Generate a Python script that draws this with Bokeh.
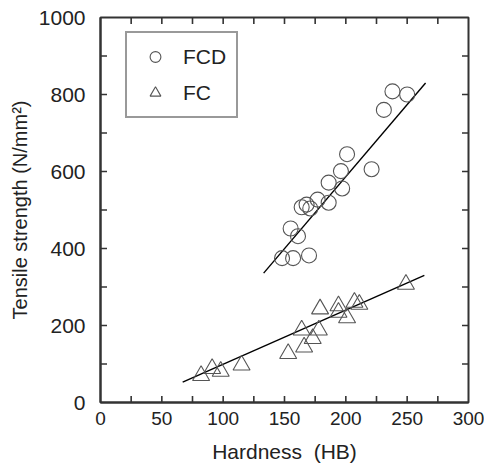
import math
from bokeh.plotting import figure
from bokeh.models import FixedTicker, Legend, LegendItem, Range1d
from bokeh.embed import file_html
from bokeh.resources import INLINE

# Data
fcd_hb = [238, 250, 231, 201, 221, 196, 186, 197, 186, 177, 168, 164, 171, 155, 161, 148, 157, 170]
fcd_ts = [808, 800, 760, 645, 606, 601, 571, 556, 519, 527, 514, 507, 504, 452, 432, 375, 375, 382]
fc_hb = [249, 179, 194, 207, 211, 194, 201, 164, 178, 173, 166, 153, 115, 98, 91, 82]
fc_ts = [307, 243, 251, 260, 255, 234, 220, 188, 188, 166, 144, 127, 97, 81, 88, 70]
fcd_fit_hb = [133, 265]
fcd_fit_ts = [336, 830]
fc_fit_hb = [67, 264]
fc_fit_ts = [53, 330]
x_ticks = [0, 50, 100, 150, 200, 250, 300]
x_minor = [25, 75, 125, 175, 225, 275]
y_ticks = [0, 200, 400, 600, 800, 1000]
y_minor = [100, 300, 500, 700, 900]

FONT = "Liberation Sans"
INK = "#222222"
FRAME = "#333333"

X0, X1, Y0, Y1 = 0, 300, 0, 1000

p = figure(width=484, height=465, output_backend="svg", toolbar_location=None,
           x_range=Range1d(X0, X1), y_range=Range1d(Y0, Y1),
           min_border_left=100, min_border_right=16, min_border_top=17, min_border_bottom=62,
           x_axis_label="Hardness\u00a0\u00a0(HB)", y_axis_label="Tensile strength (N/mm²)")
p.grid.visible = False
p.outline_line_color = FRAME
p.outline_line_width = 2

for ax, ticks, fs in ((p.xaxis[0], x_ticks, "19px"), (p.yaxis[0], y_ticks, "21px")):
    ax.ticker = FixedTicker(ticks=ticks, minor_ticks=[])
    ax.axis_line_color = FRAME
    ax.axis_line_width = 2
    ax.major_tick_in = 0
    ax.major_tick_out = 0
    ax.minor_tick_in = 0
    ax.minor_tick_out = 0
    ax.major_tick_line_color = None
    ax.minor_tick_line_color = None
    ax.major_label_text_font = FONT
    ax.major_label_text_font_size = fs
    ax.major_label_text_color = INK
    ax.axis_label_text_font = FONT
    ax.axis_label_text_font_size = "20px"
    ax.axis_label_text_font_style = "normal"
    ax.axis_label_text_color = INK

p.xaxis[0].axis_label_text_font_size = "21px"
p.xaxis[0].major_label_standoff = 9
p.xaxis[0].axis_label_standoff = 12
p.yaxis[0].major_label_standoff = 15
p.yaxis[0].axis_label_standoff = 5

# inward tick marks on all four sides (dashes centred on the frame, clipped by it)
inner_x = [t for t in sorted(x_ticks + x_minor) if X0 < t < X1]
inner_y = [t for t in sorted(y_ticks + y_minor) if Y0 < t < Y1]
tick_kw = dict(marker="dash", size=13, line_color=FRAME, line_width=1.6)
p.scatter(inner_x, [Y0] * len(inner_x), angle=math.pi / 2, **tick_kw)
p.scatter(inner_x, [Y1] * len(inner_x), angle=math.pi / 2, **tick_kw)
p.scatter([X0] * len(inner_y), inner_y, **tick_kw)
p.scatter([X1] * len(inner_y), inner_y, **tick_kw)

p.line(fcd_fit_hb, fcd_fit_ts, line_color="black", line_width=1.4)
p.line(fc_fit_hb, fc_fit_ts, line_color="black", line_width=1.4)

r_fcd = p.scatter(fcd_hb, fcd_ts, marker="circle", size=15, fill_color=None,
                  line_color="#555555", line_width=1.1)
r_fc = p.scatter(fc_hb, fc_ts, marker="triangle", size=17, fill_color=None,
                 line_color="#555555", line_width=1.1)

legend = Legend(items=[LegendItem(label="FCD", renderers=[r_fcd]),
                       LegendItem(label="FC", renderers=[r_fc])],
                location=(25, 284))
legend.border_line_color = FRAME
legend.border_line_width = 2
legend.background_fill_color = "white"
legend.padding = 10
legend.spacing = 9
legend.label_height = 27
legend.glyph_height = 27
legend.glyph_width = 36
legend.label_standoff = 10
legend.label_text_font = FONT
legend.label_text_font_size = "21px"
legend.label_text_color = INK
legend.margin = 0
p.add_layout(legend, "center")

open("out.html", "w").write(file_html(p, INLINE))
